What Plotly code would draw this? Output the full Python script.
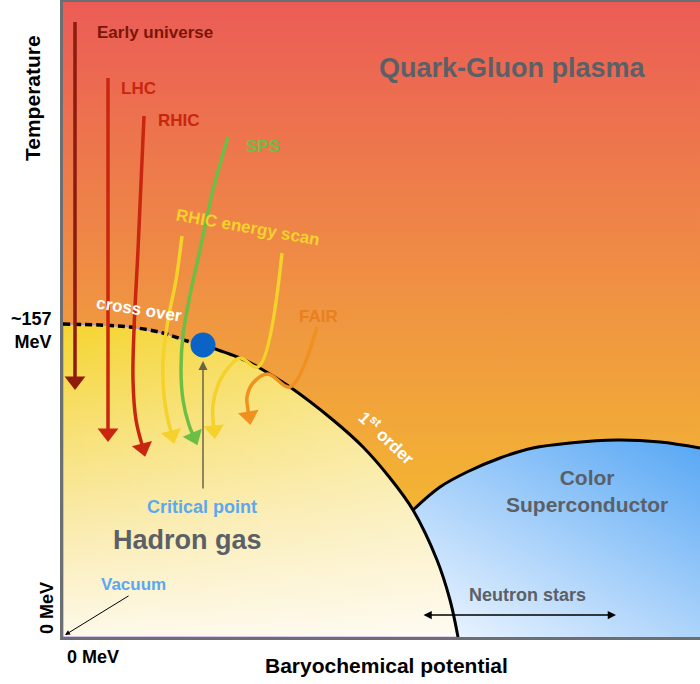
import plotly.graph_objects as go
import numpy as np

# ---- values (plot units: x = baryochemical potential, y = temperature) ----
X_MAX, Y_MAX = 637, 635
TC = 313  # "~157 MeV" level

# hadron / QGP phase boundary (crossover up to the critical point, 1st order after)
bnd_x = [0, 37, 67, 100, 124, 140, 177, 195, 227, 270, 300, 327, 350, 374, 387, 395]
bnd_y = [313, 312, 310, 304, 296, 292, 279, 270, 250, 217, 190, 159, 127, 77, 37, 0]
CP_IDX = 5          # critical point on the boundary
SC_IDX = 12         # where the colour-superconductor boundary meets it

# colour superconductor boundary
sc_x = [350, 377, 404, 437, 470, 507, 554, 597, 637]
sc_y = [127, 150, 165, 179, 189, 194, 197, 195, 189]

# trajectories
early_x = [12, 12]
early_y = [615, 256]
lhc_x = [45, 45]
lhc_y = [559, 204]
rhic_x = [81, 75, 71, 70, 73, 80]
rhic_y = [521, 387, 307, 257, 217, 189]
sps_x = [165, 150, 137, 127, 120, 118, 120, 126, 131]
sps_y = [500, 447, 387, 342, 302, 267, 237, 212, 200]
bes1_x = [119, 113, 105, 100, 101, 105, 109]
bes1_y = [401, 357, 317, 277, 242, 217, 202]
bes2_x = [219, 195, 177, 165, 155, 150, 150, 151]
bes2_y = [384, 270, 279, 269, 252, 232, 217, 207]
fair_x = [254, 227, 205, 190, 184, 185, 186]
fair_y = [310, 250, 263, 254, 240, 227, 221]

RED_D = "#8E1B0C"
RED = "#C9260F"
GREEN = "#6DBE45"
YELLOW = "#F4D12B"
ORANGE = "#F0901F"
GRAY = "#5B6067"
LBLUE = "#5AA8F0"

fig = go.Figure()

# colour superconductor gradient (diagonal), lies beneath the fills
hx = np.linspace(330, 645, 33)
hy = np.linspace(-5, 205, 22)
HX, HY = np.meshgrid(hx, hy)
hz = 0.45 * (HX - 340) / 297 + 0.55 * HY / 200
fig.add_trace(go.Heatmap(x=hx, y=hy, z=hz, zsmooth="best", showscale=False, hoverinfo="skip",
                         colorscale=[[0, "#F4F9FF"], [0.5, "#A6D0FA"], [1, "#55A6F4"]],
                         zmin=0, zmax=1))

# QGP region
qx = [-3, -3, 645, 645] + sc_x[::-1] + bnd_x[SC_IDX::-1]
qy = [313, 645, 645, 189] + sc_y[::-1] + bnd_y[SC_IDX::-1]
fig.add_trace(go.Scatter(x=qx, y=qy, fill="toself", mode="none", hoverinfo="skip",
                         fillgradient=dict(type="vertical", colorscale=[[0, "#F3B532"], [0.33, "#F09A3F"],
                                                                        [0.6, "#EE8049"], [1, "#EB5A57"]])))

# hadron gas region
hxs = bnd_x + [0, 0]
hys = bnd_y + [0, 313]
fig.add_trace(go.Scatter(x=hxs, y=hys, fill="toself", mode="lines", hoverinfo="skip",
                         line=dict(color="#B07FE0", width=1),
                         fillgradient=dict(type="vertical", colorscale=[[0, "#FEF9EA"], [0.35, "#FAEBAE"],
                                                                        [0.7, "#F7DF6C"], [1, "#F5D42F"]])))
fig.add_trace(go.Scatter(x=hxs, y=hys, fill="toself", mode="none", hoverinfo="skip",
                         fillgradient=dict(type="horizontal", colorscale=[[0, "rgba(255,255,255,0)"],
                                                                          [1, "rgba(255,255,255,0.35)"]])))

# boundaries
fig.add_trace(go.Scatter(x=bnd_x[:CP_IDX + 1], y=bnd_y[:CP_IDX + 1], mode="lines", hoverinfo="skip",
                         line=dict(color="black", width=3.5, dash="7px,4px", shape="spline")))
fig.add_trace(go.Scatter(x=bnd_x[CP_IDX:], y=bnd_y[CP_IDX:], mode="lines", hoverinfo="skip",
                         line=dict(color="black", width=3, shape="spline")))
fig.add_trace(go.Scatter(x=sc_x, y=sc_y, mode="lines", hoverinfo="skip",
                         line=dict(color="black", width=3, shape="spline")))


def traj(xs, ys, color):
    n = len(xs)
    fig.add_trace(go.Scatter(x=xs, y=ys, mode="lines+markers", hoverinfo="skip",
                             line=dict(color=color, width=3.5, shape="spline"),
                             marker=dict(symbol="triangle-up", angleref="previous", color=color, opacity=1,
                                         size=[0] * (n - 1) + [18], line=dict(width=0))))


traj(early_x, early_y, RED_D)
traj(lhc_x, lhc_y, RED)
traj(rhic_x, rhic_y, RED)
traj(bes1_x, bes1_y, YELLOW)
traj(bes2_x, bes2_y, YELLOW)
traj(sps_x, sps_y, GREEN)
traj(fair_x, fair_y, ORANGE)

# critical point
fig.add_trace(go.Scatter(x=[bnd_x[CP_IDX]], y=[bnd_y[CP_IDX]], mode="markers", hoverinfo="skip",
                         marker=dict(color="#0B63C6", size=25, line=dict(width=0))))

FONT = "Liberation Sans, Arial, sans-serif"


def label(text, x, y, size, color, xanchor="center", angle=0, align="center"):
    fig.add_annotation(x=x / X_MAX, y=y / Y_MAX, xref="paper", yref="paper", text=f"<b>{text}</b>",
                       showarrow=False, xanchor=xanchor, yanchor="middle", textangle=angle, align=align,
                       font=dict(family=FONT, size=size, color=color))


label("Temperature", -31, 539, 21, "black", angle=-90)
label("~157<br>MeV", -9, 306, 18, "black", xanchor="right", align="right")
label("0 MeV", -16, 29, 18, "black", angle=-90)
label("0 MeV", 2, -20, 18, "black", xanchor="left")
label("Baryochemical potential", 323, -28, 21, "black")
label("Early universe", 32, 604, 17, "#7A1509", xanchor="left")
label("LHC", 56, 549, 17, RED, xanchor="left")
label("RHIC", 93, 516, 17, RED, xanchor="left")
label("SPS", 181, 491, 17, GREEN, xanchor="left")
label("RHIC energy scan", 185, 409, 17, YELLOW, angle=10)
label("cross over", 76, 328, 17, "white", angle=9)
label("FAIR", 255, 321, 17, "#E8801F")
label("1<sup>st</sup> order", 324, 200, 17, "white", angle=43)
label("Quark-Gluon plasma", 314, 569, 27, GRAY, xanchor="left")
label("Critical point", 139, 130, 18, LBLUE)
label("Hadron gas", 124, 97, 27, GRAY)
label("Vacuum", 70, 53, 17, LBLUE)
label("Color<br>Superconductor", 524, 146, 21, GRAY)
label("Neutron stars", 464, 42, 18, GRAY)

# pointer arrows
fig.add_annotation(x=140, y=276, ax=140, ay=147, axref="x", ayref="y", text="", showarrow=True,
                   arrowhead=2, arrowsize=1.2, arrowwidth=1.5, arrowcolor="#6B6444", standoff=0, startstandoff=0)
fig.add_annotation(x=2, y=2, ax=67, ay=42, axref="x", ayref="y", text="", showarrow=True,
                   arrowhead=2, arrowsize=1, arrowwidth=1, arrowcolor="black", standoff=0, startstandoff=0)
fig.add_annotation(x=553, y=22, ax=359, ay=22, axref="x", ayref="y", text="", showarrow=True,
                   arrowside="end+start", arrowhead=2, arrowsize=1.1, arrowwidth=1.5, arrowcolor="black",
                   standoff=0, startstandoff=0)

fig.update_layout(
    width=700, height=684, margin=dict(l=63, r=0, t=2, b=47),
    paper_bgcolor="white", plot_bgcolor="white", showlegend=False,
    xaxis=dict(range=[0, X_MAX], showgrid=False, zeroline=False, showticklabels=False, ticks="",
               showline=True, mirror=True, linecolor="#6B6F74", linewidth=3, fixedrange=True),
    yaxis=dict(range=[0, Y_MAX], showgrid=False, zeroline=False, showticklabels=False, ticks="",
               showline=True, linecolor="#6B6F74", linewidth=3, fixedrange=True),
)

fig.write_html("out.html", config={"displayModeBar": False},
               post_script="document.body.style.margin='0px';")
